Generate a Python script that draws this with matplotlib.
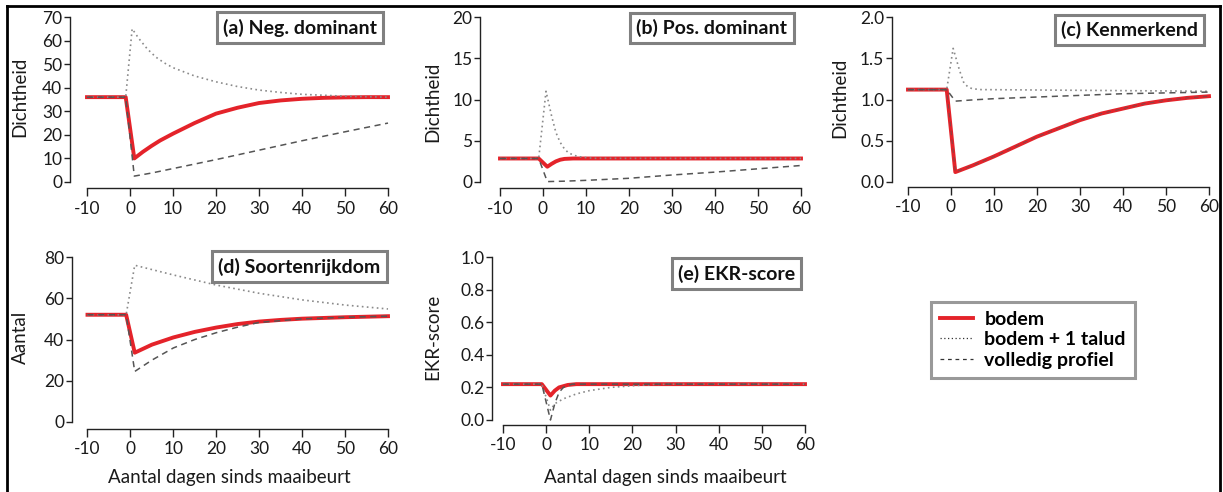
import matplotlib
matplotlib.use('Agg')
import matplotlib.pyplot as plt
from matplotlib.lines import Line2D

plt.rcParams['font.family'] = ['Lato', 'DejaVu Sans']
plt.rcParams['axes.unicode_minus'] = False

W, H = 1223, 492

# ---- data ----
# (a) Neg. dominant
a_bodem_x = [-10, -1, 1, 3, 5, 7, 10, 15, 20, 25, 30, 35, 40, 45, 50, 55, 60]
a_bodem_y = [36, 36, 10, 12.8, 15.3, 17.6, 20.5, 25, 29, 31.5, 33.5, 34.6, 35.3, 35.7, 35.9, 36, 36]
a_talud_x = [-10, -1, 0.5, 2, 4, 6, 8, 10, 15, 20, 25, 30, 35, 40, 50, 60]
a_talud_y = [36, 36, 65, 61, 56.5, 53, 50.5, 48.5, 45, 42.5, 40.5, 39, 38, 37.2, 36.4, 36]
a_prof_x = [-10, -1, 1, 5, 10, 20, 30, 40, 50, 60]
a_prof_y = [36, 36, 2.5, 3.8, 5.7, 9.5, 13.5, 17.5, 21.3, 25]

# (b) Pos. dominant
b_bodem_x = [-10, -1, 1, 2, 3, 4, 5, 7, 60]
b_bodem_y = [2.85, 2.85, 1.85, 2.2, 2.5, 2.7, 2.8, 2.85, 2.85]
b_talud_x = [-10, -1, 0.7, 2, 3, 4, 5, 6, 8, 10, 12, 60]
b_talud_y = [2.85, 2.85, 11, 8, 6, 4.8, 4, 3.5, 3.1, 2.95, 2.87, 2.85]
b_prof_x = [-10, -1, 1, 5, 10, 20, 30, 40, 50, 60]
b_prof_y = [2.85, 2.85, 0.05, 0.1, 0.2, 0.45, 0.85, 1.2, 1.6, 2.0]

# (c) Kenmerkend
c_bodem_x = [-10, -1, 1, 5, 10, 15, 20, 25, 30, 35, 40, 45, 50, 55, 60]
c_bodem_y = [1.12, 1.12, 0.12, 0.2, 0.31, 0.43, 0.55, 0.65, 0.75, 0.83, 0.89, 0.95, 0.99, 1.02, 1.04]
c_talud_x = [-10, -1, 0.5, 2, 3, 4, 5, 7, 60]
c_talud_y = [1.12, 1.12, 1.62, 1.35, 1.2, 1.15, 1.13, 1.12, 1.10]
c_prof_x = [-10, -1, 1, 5, 10, 20, 30, 40, 50, 60]
c_prof_y = [1.12, 1.12, 0.98, 0.995, 1.01, 1.03, 1.05, 1.07, 1.08, 1.09]

# (d) Soortenrijkdom
d_bodem_x = [-10, -1, 1, 5, 10, 15, 20, 25, 30, 35, 40, 50, 60]
d_bodem_y = [52, 52, 33.6, 37.5, 41, 43.7, 45.8, 47.5, 48.7, 49.5, 50.1, 50.8, 51.3]
d_talud_x = [-10, -1, 1, 10, 20, 30, 40, 50, 60]
d_talud_y = [52, 52, 76, 71.3, 66.4, 62.4, 59.2, 56.7, 54.8]
d_prof_x = [-10, -1, 1, 5, 10, 15, 20, 25, 30, 40, 50, 60]
d_prof_y = [52, 52, 24.5, 30, 35.9, 40, 43.3, 46, 48.3, 50, 50.8, 51.3]

# (e) EKR-score
e_bodem_x = [-10, -1, 1, 2, 3, 5, 7, 60]
e_bodem_y = [0.22, 0.22, 0.15, 0.18, 0.2, 0.215, 0.22, 0.22]
e_talud_x = [-10, -1, 1, 2, 4, 7, 10, 15, 20, 25, 30, 60]
e_talud_y = [0.22, 0.22, 0.06, 0.1, 0.13, 0.16, 0.18, 0.2, 0.21, 0.218, 0.22, 0.22]
e_prof_x = [-10, -1, 1, 2, 3, 4, 6, 60]
e_prof_y = [0.22, 0.22, 0.0, 0.1, 0.17, 0.2, 0.22, 0.22]

x_ticks = [-10, 0, 10, 20, 30, 40, 50, 60]
xlabel = 'Aantal dagen sinds maaibeurt'

RED = '#e4232a'
DOT = '#8a8a8a'
DASH = '#555555'
AXC = '#222222'

# panel layout in pixels: (spine_x, x_at_-10, x_at_60, y_top, y_zero, spine_y)
panels = [
    dict(title='(a) Neg. dominant', ylabel='Dichtheid', yticks=[0, 10, 20, 30, 40, 50, 60, 70], fmt='{:.0f}',
         px=(70, 87, 388, 17, 182, 188), box=(300, 27.5), ylab=(20, 97),
         data=(a_bodem_x, a_bodem_y, a_talud_x, a_talud_y, a_prof_x, a_prof_y), overlay=False, xlab=False),
    dict(title='(b) Pos. dominant', ylabel='Dichtheid', yticks=[0, 5, 10, 15, 20], fmt='{:.0f}',
         px=(480, 500, 801, 17, 182, 188), box=(712, 28), ylab=(433, 102),
         data=(b_bodem_x, b_bodem_y, b_talud_x, b_talud_y, b_prof_x, b_prof_y), overlay=False, xlab=False),
    dict(title='(c) Kenmerkend', ylabel='Dichtheid', yticks=[0, 0.5, 1.0, 1.5, 2.0], fmt='{:.1f}',
         px=(892, 908, 1209, 17, 182, 187), box=(1129.5, 30), ylab=(840, 98),
         data=(c_bodem_x, c_bodem_y, c_talud_x, c_talud_y, c_prof_x, c_prof_y), overlay=True, xlab=False),
    dict(title='(d) Soortenrijkdom', ylabel='Aantal', yticks=[0, 20, 40, 60, 80], fmt='{:.0f}',
         px=(72, 87.5, 388, 257, 422, 429), box=(299.5, 266.5), ylab=(20, 337),
         data=(d_bodem_x, d_bodem_y, d_talud_x, d_talud_y, d_prof_x, d_prof_y), overlay=False, xlab=(229, 478)),
    dict(title='(e) EKR-score', ylabel='EKR-score', yticks=[0, 0.2, 0.4, 0.6, 0.8, 1.0], fmt='{:.1f}',
         px=(492, 503, 805, 257, 420, 425), box=(736.5, 273.5), ylab=(433, 337),
         data=(e_bodem_x, e_bodem_y, e_talud_x, e_talud_y, e_prof_x, e_prof_y), overlay=False, xlab=(665, 478)),
]

fig = plt.figure(figsize=(W / 100, H / 100), dpi=100)

for p in panels:
    sx, x0, x1, ytop, yzero, sy = p['px']
    ymax = p['yticks'][-1]
    xscale = (x1 - x0) / 70.0
    yscale = (yzero - ytop) / ymax
    ax = fig.add_axes([sx / W, 1 - sy / H, (x1 - sx) / W, (sy - ytop) / H])
    ax.set_xlim(-10 - (x0 - sx) / xscale, 60)
    ax.set_ylim(-(sy - yzero) / yscale, ymax)

    bx, by, tx, ty, vx, vy = p['data']
    ax.plot(bx, by, color=RED, lw=2.8, solid_joinstyle='round', clip_on=False, zorder=3)
    ax.plot(tx, ty, color=DOT, lw=1.2, ls=(0, (1, 2)), clip_on=False, zorder=4)
    ax.plot(vx, vy, color=DASH, lw=1.1, ls=(0, (4, 3)), clip_on=False, zorder=4)
    if p['overlay']:
        ax.plot(bx, by, color='#555555', lw=0.8, ls=(0, (4, 4)), alpha=0.6, clip_on=False, zorder=5)

    for s in ['top', 'right']:
        ax.spines[s].set_visible(False)
    ax.spines['left'].set_bounds(0, ymax)
    ax.spines['bottom'].set_bounds(-10, 60)
    for s in ['left', 'bottom']:
        ax.spines[s].set_color(AXC)
        ax.spines[s].set_linewidth(1.0)
    ax.set_xticks(x_ticks)
    ax.set_yticks(p['yticks'])
    ax.set_yticklabels([p['fmt'].format(v) for v in p['yticks']])
    ax.tick_params(axis='both', colors=AXC, labelcolor='#1a1a1a', labelsize=12.5, width=1.0)
    ax.tick_params(axis='y', length=4, pad=1.5)
    ax.tick_params(axis='x', length=6, pad=3)
    ax.patch.set_visible(False)

    fig.text(p['ylab'][0] / W, 1 - p['ylab'][1] / H, p['ylabel'], rotation=90,
             ha='center', va='center', fontsize=13.5, color='#1a1a1a')
    fig.text(p['box'][0] / W, 1 - p['box'][1] / H, p['title'], ha='center', va='center',
             fontsize=14, fontweight='bold', color='#111111',
             bbox=dict(boxstyle='square,pad=0.33', facecolor='white', edgecolor='#808080', linewidth=2.2))
    if p['xlab']:
        fig.text(p['xlab'][0] / W, 1 - p['xlab'][1] / H, xlabel, ha='center', va='center',
                 fontsize=13.5, color='#1a1a1a')

handles = [Line2D([], [], color=RED, lw=2.8),
           Line2D([], [], color='#333333', lw=0.9, ls=(0, (1, 2))),
           Line2D([], [], color='#333333', lw=0.9, ls=(0, (3, 3)))]
labels = ['bodem', 'bodem + 1 talud', 'volledig profiel']
leg = fig.legend(handles, labels, loc='upper left', bbox_to_anchor=(931 / W, 1 - 302 / H),
                 borderaxespad=0, frameon=True, fancybox=False, handlelength=1.7, handletextpad=0.6,
                 labelspacing=0.18, borderpad=0.45, prop={'weight': 'bold', 'size': 14})
leg.get_frame().set_edgecolor('#808080')
leg.get_frame().set_linewidth(2.2)

# outer frame lines
fig.add_artist(Line2D([7 / W, 7 / W], [0, 1 - 6 / H], color='black', lw=2.0))
fig.add_artist(Line2D([7 / W, 1219.5 / W], [1 - 6 / H, 1 - 6 / H], color='black', lw=2.0))
fig.add_artist(Line2D([1219.5 / W, 1219.5 / W], [0, 1 - 6 / H], color='black', lw=2.0))

fig.savefig('out.png', dpi=100)
